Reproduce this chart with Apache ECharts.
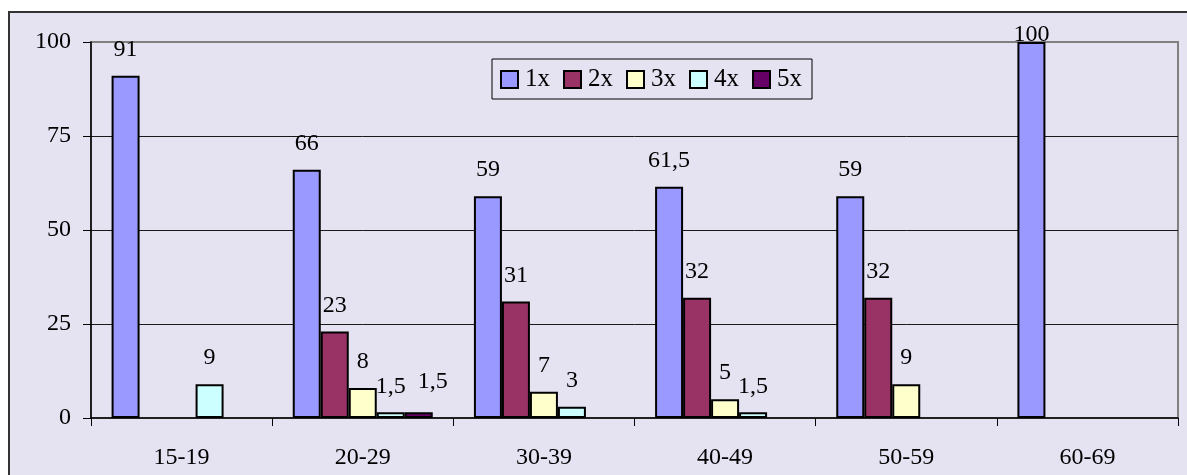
<!DOCTYPE html>
<html>
<head>
<meta charset="utf-8">
<style>
  html, body { margin: 0; padding: 0; background: #ffffff; }
  #chart { width: 1187px; height: 475px; }
</style>
<script src="https://cdn.jsdelivr.net/npm/echarts@6/dist/echarts.min.js"></script>
</head>
<body>
<div id="chart"></div>
<script>
// Age groups along the x axis
const categories = ['15-19', '20-29', '30-39', '40-49', '50-59', '60-69'];

// Share per age group (%), one array per series; null = no bar
const series1x = [91, 66, 59, 61.5, 59, 100];
const series2x = [null, 23, 31, 32, 32, null];
const series3x = [null, 8, 7, 5, 9, null];
const series4x = [9, 1.5, 3, 1.5, null, null];
const series5x = [null, 1.5, null, null, null, null];

const seriesNames = ['1x', '2x', '3x', '4x', '5x'];
const seriesColors = ['#9999ff', '#993366', '#ffffcc', '#ccffff', '#660066'];

// Y axis scale
const yMin = 0;
const yMax = 100;
const yStep = 25;

const FONT = '"Liberation Serif", "Times New Roman", serif';

function fmt(v) {
  return String(v).replace('.', ',');
}

function makeData(values) {
  return values.map(function (v) {
    if (v === null) return '-';
    if (v >= yMax) {
      // keep the label of a full-height bar inside the chart frame
      return { value: v, label: { distance: -5 } };
    }
    return v;
  });
}

const allValues = [series1x, series2x, series3x, series4x, series5x];

// the 5x label is nudged so it does not collide with its 4x neighbour
const labelOffsets = [[0, 0], [0, 0], [0, 0], [0, 0], [14, -5]];

const chart = echarts.init(document.getElementById('chart'), null, { renderer: 'canvas' });

chart.setOption({
  animation: false,
  backgroundColor: '#ffffff',
  textStyle: { fontFamily: FONT, color: '#000' },
  graphic: [{
    type: 'rect',
    z: -10,
    shape: { x: 9, y: 12, width: 1300, height: 600 },
    style: { fill: '#e5e2f2', stroke: '#333333', lineWidth: 2 }
  }],
  grid: {
    left: 91, right: 9, top: 42, bottom: 57,
    show: true,
    backgroundColor: 'transparent',
    borderColor: '#808080',
    borderWidth: 2
  },
  legend: {
    left: 492, top: 59,
    padding: [8, 10, 7, 8],
    borderColor: '#000',
    borderWidth: 1,
    itemWidth: 17,
    itemHeight: 17,
    itemGap: 13,
    icon: 'rect',
    itemStyle: { borderColor: '#000', borderWidth: 2 },
    textStyle: { fontFamily: FONT, fontSize: 25, color: '#000', padding: [0, 0, 0, 2] },
    data: seriesNames
  },
  xAxis: {
    type: 'category',
    data: categories,
    axisLine: { lineStyle: { color: '#000', width: 1.5 } },
    axisTick: { show: true, length: 8, lineStyle: { color: '#000' } },
    axisLabel: { fontFamily: FONT, fontSize: 24, color: '#000', margin: 28 },
    splitLine: { show: false }
  },
  yAxis: {
    type: 'value',
    min: yMin, max: yMax, interval: yStep,
    axisLine: { show: true, lineStyle: { color: '#000', width: 1.5 } },
    axisTick: { show: true, length: 8, lineStyle: { color: '#000' } },
    axisLabel: { fontFamily: FONT, fontSize: 24, color: '#000', margin: 20 },
    splitLine: { show: true, showMinLine: false, showMaxLine: false, lineStyle: { color: '#1a1a1a', width: 1 } }
  },
  series: allValues.map(function (vals, i) {
    return {
      name: seriesNames[i],
      type: 'bar',
      data: makeData(vals),
      barWidth: 28,
      barGap: '0%',
      itemStyle: { color: seriesColors[i], borderColor: '#000', borderWidth: 2 },
      label: {
        show: true,
        position: 'top',
        distance: 14,
        offset: labelOffsets[i],
        fontFamily: FONT,
        fontSize: 24,
        color: '#000',
        formatter: function (p) { return fmt(p.value); }
      }
    };
  })
});
</script>
</body>
</html>
